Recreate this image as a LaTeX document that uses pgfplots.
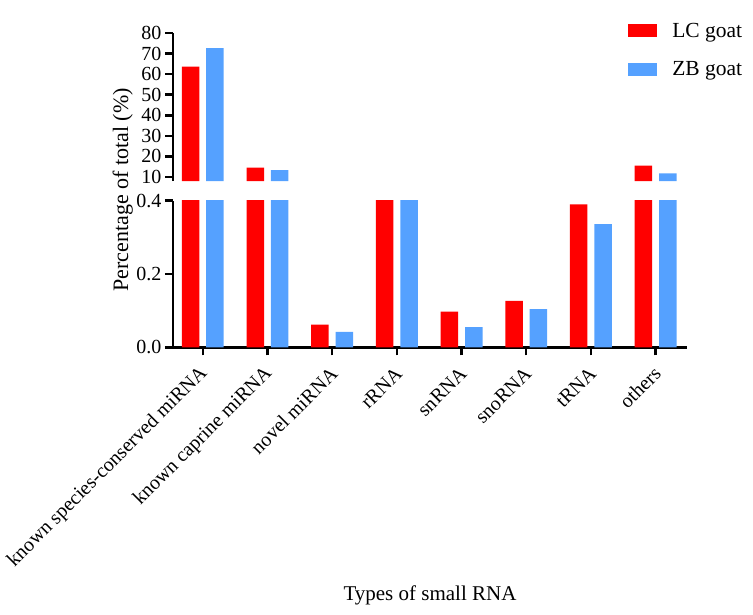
\documentclass[border=0pt]{standalone}
\usepackage{fontspec}
\setmainfont{Liberation Serif}
\usepackage{pgfplots}
\usepackage{pgfplotstable}
\pgfplotsset{compat=1.18}
\definecolor{lcred}{RGB}{255,0,0}
\definecolor{zbblue}{RGB}{85,161,255}

\pgfplotstableread{
x lc zb
0 63.6 72.7
1 14.6 13.3
2 0.062 0.042
3 1.5 1.5
4 0.097 0.055
5 0.127 0.104
6 0.390 0.336
7 15.5 11.8
}\data

\begin{document}
\begin{tikzpicture}
\useasboundingbox (0,0) rectangle (753pt,615pt);
\pgfplotsset{common/.style={
  scale only axis, width=513.7pt, xmin=-0.46, xmax=7.48,
  axis line style={line width=2.5pt,-},
  tick align=outside, major tick length=8pt,
  every tick/.style={line width=2.5pt, black},
  tick label style={font=\fontsize{20}{24}\selectfont},
  /pgf/number format/assume math mode=true,
}}
\begin{axis}[common, at={(173pt,433.9pt)}, anchor=south west, height=148.1pt,
  ymin=8, ymax=80, ytick={10,20,...,80},
  restrict y to domain=8:100,
  axis x line=none, axis y line*=left,
  legend style={draw=none, fill=none, at={(0.886,1.082)}, anchor=north west,
    inner sep=0pt, font=\fontsize{21.5}{26}\selectfont, row sep=19pt,
    /tikz/every odd column/.style={column sep=13pt}},
  legend cell align=left]
\addplot[ybar, bar width=17.5pt, bar shift=-12.2pt, fill=lcred, draw=none,
  legend image code/.code={\fill[lcred] (0pt,-6.5pt) rectangle (29pt,6.5pt);}]
  table[x=x,y=lc]{\data};
\addlegendentry{LC goat}
\addplot[ybar, bar width=17.5pt, bar shift=12.2pt, fill=zbblue, draw=none,
  legend image code/.code={\fill[zbblue] (0pt,-6.5pt) rectangle (29pt,6.5pt);}]
  table[x=x,y=zb]{\data};
\addlegendentry{ZB goat}
\end{axis}
\begin{axis}[common, at={(173pt,267.7pt)}, anchor=south west, height=146.6pt,
  ymin=0, ymax=0.4, ytick={0,0.2,0.4},
  restrict y to domain*=0:1,
  yticklabel style={/pgf/number format/.cd, fixed, fixed zerofill, precision=1},
  axis x line*=bottom, axis y line*=left,
  xtick={0,...,7},
  xticklabels={known species-conserved miRNA, known caprine miRNA, novel miRNA, rRNA, snRNA, snoRNA, tRNA, others},
  xticklabel style={rotate=45, anchor=east, xshift=-6pt, yshift=-12pt, font=\fontsize{20}{24}\selectfont}]
\addplot[ybar, bar width=17.5pt, bar shift=-12.2pt, fill=lcred, draw=none]
  table[x=x,y=lc]{\data};
\addplot[ybar, bar width=17.5pt, bar shift=12.2pt, fill=zbblue, draw=none]
  table[x=x,y=zb]{\data};
\end{axis}
\node[rotate=90, anchor=base, font=\fontsize{22}{26}\selectfont] at (128pt,425pt) {Percentage of total (\%)};
\node[anchor=base, font=\fontsize{21}{25}\selectfont] at (430pt,14pt) {Types of small RNA};
\end{tikzpicture}
\end{document}
